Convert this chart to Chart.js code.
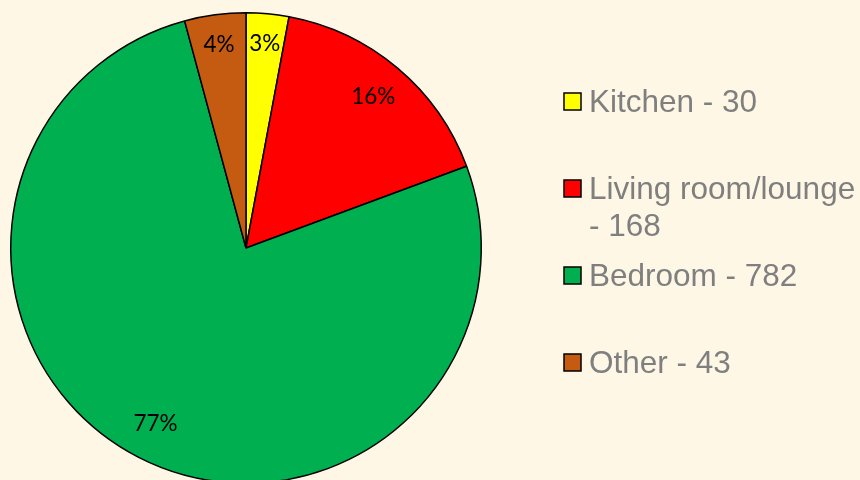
<!DOCTYPE html>
<html>
<head>
<meta charset="utf-8">
<script src="https://cdn.jsdelivr.net/npm/chart.js@4/dist/chart.umd.min.js"></script>
<style>
  html, body { margin: 0; padding: 0; overflow: hidden; background: #fef7e6; }
  #wrap { width: 860px; height: 480px; overflow: hidden; }
</style>
</head>
<body>
<div id="wrap"><canvas id="pie" width="860" height="500"></canvas></div>
<script>
// 部屋ごとの件数
const rooms = ['Kitchen', 'Living room/lounge', 'Bedroom', 'Other'];
const counts = [30, 168, 782, 43];
const roomColors = ['#ffff00', '#ff0000', '#00b050', '#c55a11'];

const total = counts.reduce((a, b) => a + b, 0);

// 合計が100%になるよう丸める（最大剰余方式）
function roundedPercents(vals) {
    const raw = vals.map(v => v / total * 100);
    const out = raw.map(Math.floor);
    let left = 100 - out.reduce((a, b) => a + b, 0);
    const order = raw.map((r, i) => [r - Math.floor(r), i]).sort((a, b) => b[0] - a[0]);
    for (let k = 0; k < left; k++) out[order[k][1]] += 1;
    return out;
}
const percents = roundedPercents(counts);

// 扇形の中にパーセント表示
const pctLabels = {
    id: 'pctLabels',
    afterDatasetsDraw(chart) {
        const ctx = chart.ctx;
        const meta = chart.getDatasetMeta(0);
        ctx.save();
        ctx.font = '22.5px Lato, "Open Sans", sans-serif';
        ctx.fillStyle = '#000';
        ctx.textAlign = 'center';
        ctx.textBaseline = 'middle';
        meta.data.forEach((arc, i) => {
            const p = arc.getProps(['x', 'y', 'startAngle', 'endAngle', 'outerRadius'], true);
            const mid = (p.startAngle + p.endAngle) / 2;
            const r = p.outerRadius * (i === 1 || i === 2 ? 0.84 : 0.87);
            ctx.fillText(percents[i] + '%', p.x + Math.cos(mid) * r, p.y + Math.sin(mid) * r);
        });
        ctx.restore();
    }
};

// 右側の凡例（折り返しあり）
const sideLegend = {
    id: 'sideLegend',
    afterDraw(chart) {
        const ctx = chart.ctx;
        const boxX = 564, textX = 589, maxW = 860 - 589 - 2;
        ctx.save();
        ctx.font = '31.5px "Liberation Sans", Arial, sans-serif';
        ctx.textBaseline = 'alphabetic';
        rooms.forEach((name, i) => {
            const cy = 101.5 + i * 87;
            ctx.fillStyle = roomColors[i];
            ctx.fillRect(boxX, cy - 8.5, 17, 17);
            ctx.strokeStyle = '#000';
            ctx.lineWidth = 1.5;
            ctx.strokeRect(boxX, cy - 8.5, 17, 17);

            const words = (name + ' - ' + counts[i]).split(' ');
            const lines = [];
            let line = '';
            words.forEach(w => {
                const test = line ? line + ' ' + w : w;
                if (line && ctx.measureText(test).width > maxW) {
                    lines.push(line);
                    line = w;
                } else {
                    line = test;
                }
            });
            lines.push(line);
            ctx.fillStyle = '#7f7f7f';
            lines.forEach((l, j) => {
                ctx.fillText(l, textX, cy + 10.5 + j * 37);
            });
        });
        ctx.restore();
    }
};

new Chart(document.getElementById('pie'), {
    type: 'pie',
    data: {
        labels: rooms,
        datasets: [{
            data: counts,
            backgroundColor: roomColors,
            borderColor: '#000',
            borderWidth: 1.5
        }]
    },
    options: {
        responsive: false,
        animation: false,
        layout: {
            padding: { left: 10, top: 12, right: 378, bottom: 16 }
        },
        plugins: {
            legend: { display: false },
            tooltip: { enabled: false }
        }
    },
    plugins: [pctLabels, sideLegend]
});
</script>
</body>
</html>
